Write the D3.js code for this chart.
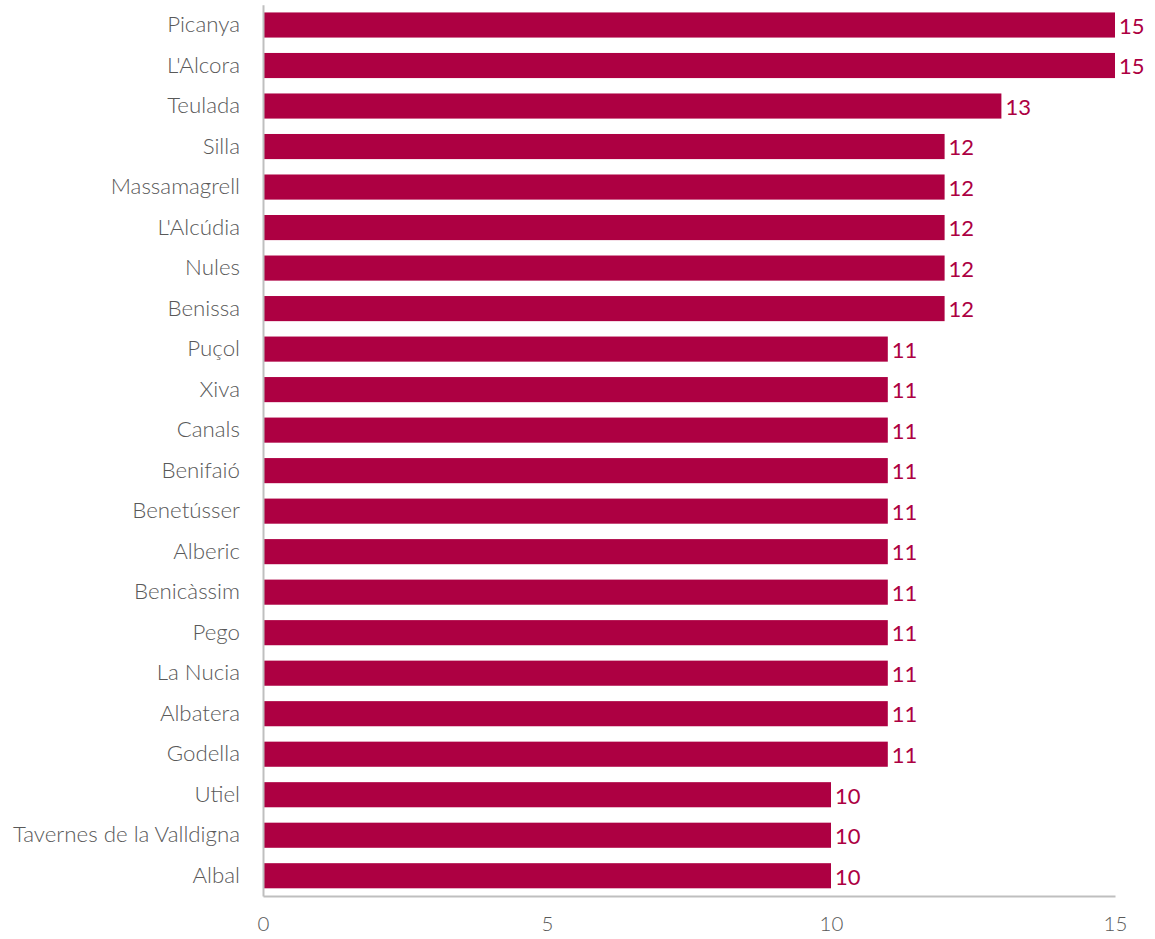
<!DOCTYPE html>
<html><head><meta charset="utf-8">
<script src="https://cdn.jsdelivr.net/npm/d3@7"></script>
<style>body{margin:0;background:#fff;} svg{display:block;}</style>
</head><body>
<script>
const categories = ["Picanya","L'Alcora","Teulada","Silla","Massamagrell","L'Alcúdia","Nules","Benissa","Puçol","Xiva","Canals","Benifaió","Benetússer","Alberic","Benicàssim","Pego","La Nucia","Albatera","Godella","Utiel","Tavernes de la Valldigna","Albal"];
const values = [15,15,13,12,12,12,12,12,11,11,11,11,11,11,11,11,11,11,11,10,10,10];
const xTicks = [0,5,10,15];

(function(){
const W = 1155, H = 939;
const mLeft = 263, mRight = 1115, mTop = 4.75, mBottom = 896;
const font = "Lato, 'Open Sans', sans-serif";
const barColor = "#AD0042";

const svg = d3.select("body").append("svg").attr("width", W).attr("height", H);
const x = d3.scaleLinear().domain([0,15]).range([mLeft,mRight]);
const y = d3.scaleBand().domain(categories).range([mTop,mBottom]).paddingInner(0.38).paddingOuter(0.19);

svg.append("g").selectAll("rect").data(categories).join("rect")
  .attr("x", x(0)).attr("y", d => y(d))
  .attr("width", (d,i) => x(values[i]) - x(0)).attr("height", y.bandwidth())
  .attr("fill", barColor);

svg.append("g").selectAll("text").data(categories).join("text")
  .attr("x", (d,i) => x(values[i]) + 4).attr("y", d => y(d) + y.bandwidth()/2)
  .attr("dy", "0.4em").attr("font-family", font).attr("font-size", 22)
  .attr("fill", barColor).text((d,i) => values[i]);

const yAxis = svg.append("g").attr("transform", `translate(${mLeft},0)`)
  .call(d3.axisLeft(y).tickSize(0).tickPadding(23));
yAxis.select(".domain").attr("stroke", "#bfbfbf").attr("stroke-width", 2);
yAxis.selectAll("text").attr("font-family", font).attr("font-size", 22.3).attr("font-weight", 300).attr("fill", "#595959");

const xAxis = svg.append("g").attr("transform", `translate(0,${mBottom})`)
  .call(d3.axisBottom(x).tickValues(xTicks).tickSize(0).tickPadding(20).tickSizeOuter(0));
xAxis.select(".domain").attr("stroke", "#bfbfbf").attr("stroke-width", 2);
xAxis.selectAll("text").attr("font-family", font).attr("font-size", 20.5).attr("font-weight", 300).attr("fill", "#595959");
})();
</script>
</body></html>
